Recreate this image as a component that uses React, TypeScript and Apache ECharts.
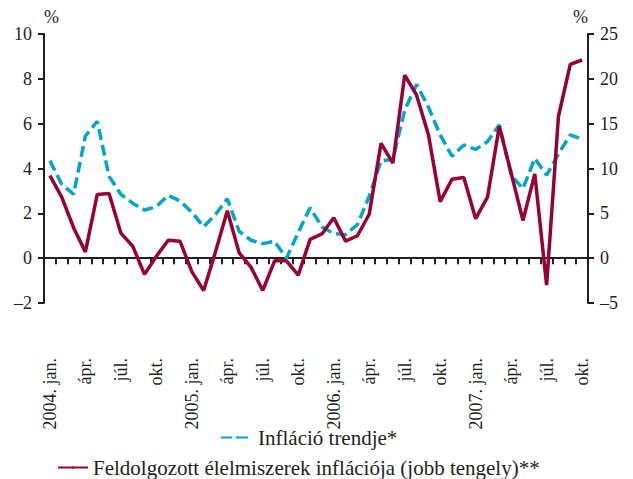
import React, { useEffect, useRef } from 'react';
import * as echarts from 'echarts';

const categories = [
  '2004. jan.', 'febr.', 'márc.', 'ápr.', 'máj.', 'jún.', 'júl.', 'aug.', 'szept.', 'okt.', 'nov.', 'dec.',
  '2005. jan.', 'febr.', 'márc.', 'ápr.', 'máj.', 'jún.', 'júl.', 'aug.', 'szept.', 'okt.', 'nov.', 'dec.',
  '2006. jan.', 'febr.', 'márc.', 'ápr.', 'máj.', 'jún.', 'júl.', 'aug.', 'szept.', 'okt.', 'nov.', 'dec.',
  '2007. jan.', 'febr.', 'márc.', 'ápr.', 'máj.', 'jún.', 'júl.', 'aug.', 'szept.', 'okt.',
];

// Inflation trend (left axis, %)
const trendValues = [
  4.35, 3.3, 2.85, 5.45, 6.1, 3.65, 2.85, 2.45, 2.15, 2.3, 2.8, 2.55,
  2.05, 1.4, 1.95, 2.65, 1.2, 0.8, 0.65, 0.75, 0.0, 1.15, 2.25, 1.4,
  1.1, 1.05, 1.5, 2.75, 4.35, 4.4, 6.6, 7.75, 6.75, 5.5, 4.55, 5.05,
  4.85, 5.2, 5.95, 3.7, 3.1, 4.45, 3.7, 4.65, 5.5, 5.3,
];

// Processed food inflation (right axis, %)
const foodValues = [
  9.2, 6.8, 3.4, 0.7, 7.1, 7.2, 2.8, 1.35, -1.8, 0.2, 2.0, 1.9,
  -1.5, -3.6, 0.7, 5.3, 0.6, -1.0, -3.6, -0.3, -0.3, -1.9, 2.1, 2.7,
  4.5, 1.9, 2.5, 4.9, 12.8, 10.6, 20.4, 18.2, 13.8, 6.3, 8.8, 9.0,
  4.4, 6.8, 14.7, 9.5, 4.2, 9.4, -3.0, 15.8, 21.6, 22.1,
];

const seriesNames = ['Infláció trendje*', 'Feldolgozott élelmiszerek inflációja (jobb tengely)**'];
const leftRange = { min: -2, max: 10, interval: 2 };
const rightRange = { min: -5, max: 25, interval: 5 };

const INK = '#231f20';
const BLUE = '#00a6cb';
const RED = '#990033';
const FONT = 'Liberation Serif';

const dash = (v: number) => String(v).replace('-', '–');
const txt = (size: number) => ({ fontSize: size, color: INK, fontFamily: FONT });

export default function App() {
  const ref = useRef<HTMLDivElement>(null);
  useEffect(() => {
    const chart = echarts.init(ref.current!, null, { renderer: 'svg' });
    chart.setOption({
      animation: false,
      backgroundColor: '#fff',
      textStyle: { fontFamily: FONT, color: INK },
      grid: { left: 44, right: 45, top: 34, bottom: 176 },
      xAxis: {
        type: 'category',
        data: categories,
        boundaryGap: true,
        axisLine: { show: true, onZero: true, lineStyle: { color: INK, width: 2 } },
        axisTick: { show: true, interval: 0, length: 6, lineStyle: { color: INK, width: 2 } },
        axisLabel: { interval: 2, rotate: 90, margin: 55, ...txt(18) },
        splitLine: { show: false },
      },
      yAxis: [
        {
          type: 'value',
          position: 'left',
          ...leftRange,
          axisLine: { show: true, onZero: false, lineStyle: { color: INK, width: 2 } },
          axisTick: { show: true, length: 6, lineStyle: { color: INK, width: 2 } },
          axisLabel: { margin: 12, formatter: dash, ...txt(18) },
          splitLine: { show: false },
          name: '%',
          nameLocation: 'end',
          nameGap: 8,
          nameTextStyle: { align: 'left', verticalAlign: 'bottom', ...txt(18) },
        },
        {
          type: 'value',
          position: 'right',
          ...rightRange,
          axisLine: { show: true, onZero: false, lineStyle: { color: INK, width: 2 } },
          axisTick: { show: true, length: 6, lineStyle: { color: INK, width: 2 } },
          axisLabel: { margin: 12, formatter: dash, ...txt(18) },
          splitLine: { show: false },
          name: '%',
          nameLocation: 'end',
          nameGap: 8,
          nameTextStyle: { align: 'right', verticalAlign: 'bottom', ...txt(18) },
        },
      ],
      legend: [
        {
          data: [seriesNames[0]],
          left: 220,
          top: 427,
          padding: 0,
          itemWidth: 32,
          itemHeight: 3,
          textStyle: txt(21),
        },
        {
          data: [seriesNames[1]],
          left: 57,
          top: 457,
          padding: 0,
          itemWidth: 30,
          itemHeight: 3,
          textStyle: txt(21),
        },
      ],
      series: [
        {
          name: seriesNames[0],
          type: 'line',
          data: trendValues,
          yAxisIndex: 0,
          symbol: 'none',
          z: 2,
          lineStyle: { color: BLUE, width: 3.5, type: [11, 5] },
          itemStyle: { color: BLUE },
        },
        {
          name: seriesNames[1],
          type: 'line',
          data: foodValues,
          yAxisIndex: 1,
          symbol: 'none',
          z: 3,
          lineStyle: { color: RED, width: 3.5 },
          itemStyle: { color: RED },
        },
      ],
    });
    return () => chart.dispose();
  }, []);
  return (
    <div
      ref={ref}
      style={{ position: 'fixed', left: 0, top: 0, width: 633, height: 479, background: '#fff' }}
    />
  );
}
